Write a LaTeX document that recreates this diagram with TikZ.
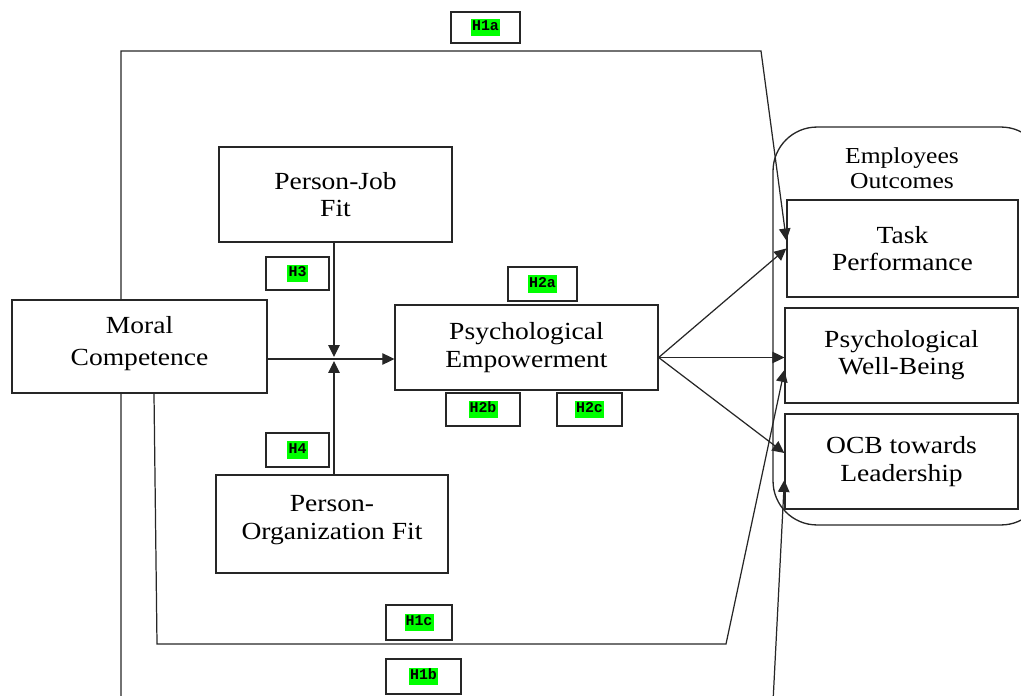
\documentclass[tikz,border=0pt]{standalone}
\usepackage{fontspec}
\setmainfont{Liberation Serif}[FakeStretch=1.12]
\setmonofont{Liberation Mono}
\usetikzlibrary{arrows.meta, positioning, calc}
\definecolor{ink}{HTML}{262626}
\definecolor{hlgreen}{HTML}{00FF00}
\newcommand{\hyptag}[1]{{\setlength{\fboxsep}{0.6pt}\colorbox{hlgreen}{\strut #1}}}
\tikzset{
  >={Triangle[length=2.4mm,width=2.3mm]},
  construct/.style={
    draw=ink, line width=0.75pt, align=center, inner sep=2pt,
    minimum width=#1, minimum height=1.9cm,
    font=\fontsize{14}{15.5}\selectfont
  },
  construct/.default=4.66cm,
  hyp/.style={
    draw=ink, line width=0.75pt, minimum width=#1, minimum height=0.66cm,
    inner sep=0pt, font=\ttfamily\bfseries\fontsize{8.5}{9}\selectfont
  },
  hyp/.default=1.3cm,
  link/.style={draw=ink, line width=0.7pt},
  arr/.style={link, ->}
}

\begin{document}
\begin{tikzpicture}[x=0.02cm, y=-0.02cm]
  \useasboundingbox (0,0) rectangle (1021,696);
  \clip (0,0) rectangle (1021,696);

  % outcome group
  \node[draw=ink, line width=0.75pt, rounded corners=0.88cm,
        minimum width=5.44cm, minimum height=7.96cm] (outcomes) at (909,326) {};
  \node[font=\fontsize{13}{14}\selectfont, align=center] (outtitle) at (902,168)
    {Employees\\Outcomes};

  \node[construct=5.1cm, minimum height=1.86cm,
        font=\fontsize{14}{18}\selectfont] (moral) at (139.5,346.5) {Moral\\Competence\\[-12pt]\mbox{}};
  \node[construct] (pj) at (335.5,194.5) {Person-Job\\Fit};
  \node[construct=4.64cm, minimum height=1.96cm] (pof) at (332,524)
    {Person-\\Organization Fit\\[-8pt]\mbox{}};
  \node[construct=5.26cm, minimum height=1.7cm] (pe) at (526.5,347.5)
    {Psychological\\Empowerment};
  \node[construct=4.62cm, minimum height=1.94cm] (tp) at (902.5,248.5) {Task\\Performance};
  \node[construct] (wb) at (901.5,355.5) {Psychological\\Well-Being};
  \node[construct] (ocb) at (901.5,461.5) {OCB towards\\Leadership};

  % hypothesis tags
  \node[hyp=1.38cm, minimum height=0.62cm] (h1a) at (485.5,27.5) {\hyptag{H1a}};
  \node[hyp=1.38cm, minimum height=0.68cm] (h2a) at (542.5,284) {\hyptag{H2a}};
  \node[hyp=1.48cm] (h2b) at (483,409.5) {\hyptag{H2b}};
  \node[hyp] (h2c) at (589.5,409.5) {\hyptag{H2c}};
  \node[hyp=1.26cm] (h3) at (297.5,273.5) {\hyptag{H3}};
  \node[hyp=1.26cm, minimum height=0.68cm] (h4) at (297.5,450) {\hyptag{H4}};
  \node[hyp=1.32cm, minimum height=0.7cm] (h1c) at (419,622.5) {\hyptag{H1c}};
  \node[hyp=1.5cm, minimum height=0.7cm] (h1b) at (423.5,676.5) {\hyptag{H1b}};

  \coordinate (mod) at (334,359);
  \coordinate (h1aL) at (121,51);
  \coordinate (h1aR) at (761,51);
  \coordinate (h1bL) at (121,702);
  \coordinate (h1bR) at (773,702);
  \coordinate (h1cL) at (157,644);
  \coordinate (h1cR) at (726,644);
  \coordinate (peout) at ([yshift=-0.2cm]pe.east);

  % direct paths
  \draw[arr] (h1aL |- moral.north) -- (h1aL) -- (h1aR) -- ([yshift=0.16cm]tp.west);
  \draw[arr] (h1bL |- moral.south) -- (h1bL) -- (h1bR) -- ([yshift=-0.37cm]ocb.west);
  \draw[arr] ([xshift=0.29cm]moral.south) -- (h1cL) -- (h1cR) -- ([yshift=-0.29cm]wb.west);

  % moderation
  \draw[arr] (moral.east |- mod) -- (pe.west |- mod);
  \draw[arr, shorten >=0.04cm] (pj.south -| mod) -- (mod);
  \draw[arr, shorten >=0.04cm] (pof.north -| mod) -- (mod);

  % mediator to outcomes
  \draw[arr] (peout) -- (tp.west);
  \draw[arr] (peout) -- (wb.west |- peout);
  \draw[arr] (peout) -- ([yshift=0.17cm]ocb.west);
\end{tikzpicture}
\end{document}
